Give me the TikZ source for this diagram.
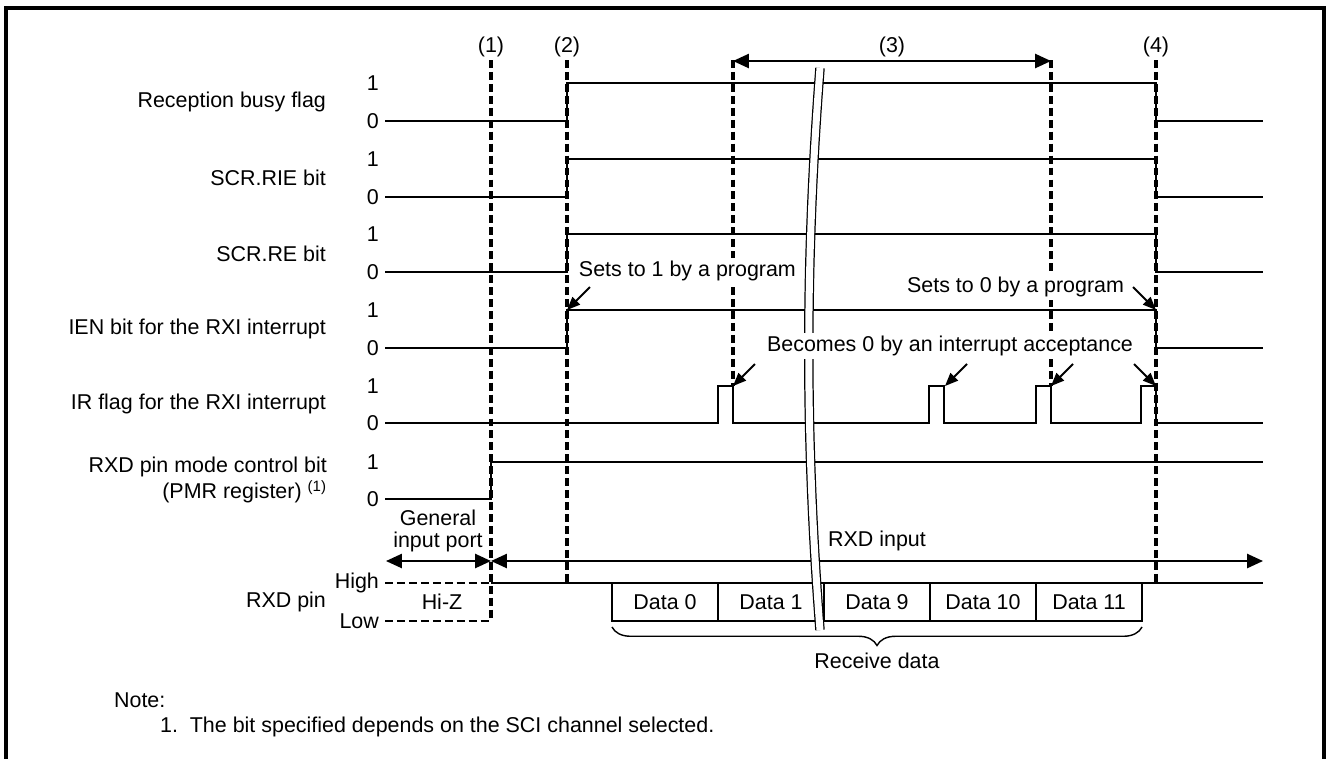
\documentclass[tikz,border=0pt]{standalone}
\usepackage{fontspec}
\setmainfont{Liberation Sans}
\usepackage{tikz}
\usetikzlibrary{positioning,arrows.meta,decorations.pathreplacing}

\begin{document}
\begin{tikzpicture}[x=0.2mm, y=-0.2mm,
  every node/.style={font=\fontsize{12.2}{15}\selectfont, inner sep=1pt},
  wave/.style={line width=0.8pt},
  markline/.style={line width=1.8pt, dash pattern=on 4.5pt off 2.3pt},
  hiz/.style={line width=1.4pt, dash pattern=on 4.5pt off 2.3pt},
  siglabel/.style={anchor=east, align=right},
  lvlnum/.style={anchor=east},
  remark/.style={fill=white, inner sep=1.5pt},
  pointer/.style={-{Triangle[length=7.5pt,width=6pt]}, line width=1.1pt},
  spanarrow/.style={{Triangle[length=9pt,width=8pt]}-{Triangle[length=9pt,width=8pt]}, line width=1.1pt},
  databox/.style={draw, line width=0.8pt, minimum width=21.2mm, minimum height=7.6mm, outer sep=0pt, inner sep=0pt}]
\useasboundingbox (0,0) rectangle (1330,758);
\draw[line width=2.3pt] (6,780) -- (6,8) -- (1324,8) -- (1324,780);

% Signal names and levels
\node[siglabel] (busy) at (328,102) {Reception busy flag};
\node[siglabel] (rie) at (328,178) {SCR.RIE bit};
\node[siglabel] (re) at (328,254) {SCR.RE bit};
\node[siglabel] (ien) at (328,329) {IEN bit for the RXI interrupt};
\node[siglabel] (ir) at (328,404) {IR flag for the RXI interrupt};
\node[siglabel] (pmr) at (329,480) {RXD pin mode control bit\\(PMR register) \textsuperscript{(1)}};
\node[siglabel] (rxd) at (328,602) {RXD pin};
\foreach \hi/\lo in {83/121,159/197,234/272,310/348,386/423,462/499} {
  \node[lvlnum] (one\hi) at (381,\hi) {1};
  \node[lvlnum] (zero\lo) at (381,\lo) {0};
}
\node[lvlnum] (high) at (381,583) {High};
\node[lvlnum] (low) at (381,621) {Low};

% Waveforms
\foreach \hi/\lo in {83/121,159/197,234/272,310/348}
  \draw[wave] (385,\lo) -- (567,\lo) -- (567,\hi) -- (1156,\hi) -- (1156,\lo) -- (1263,\lo);
\draw[wave] (385,423) foreach \t in {718,929,1036,1141} { -- (\t,423) -- (\t,386) -- (\t+15,386) -- (\t+15,423) } -- (1263,423);
\draw[wave] (385,499) -- (491,499) -- (491,462) -- (1263,462);
\draw[hiz] (385,583) -- (491,583);
\draw[hiz] (385,621) -- (491,621);
\draw[wave] (491,583) -- (1263,583);

% Timing markers
\foreach \x/\ylo in {491/621, 567/583, 733/386, 1051/386, 1156/583}
  \draw[markline] (\x,60) -- (\x,\ylo);
\node (m1) at (491,47) {(1)};
\node (m2) at (567,47) {(2)};
\node (m3) at (892,47) {(3)};
\node (m4) at (1156,47) {(4)};
\coordinate (s3a) at (733,61);
\coordinate (s3b) at (1051,61);
\draw[spanarrow] (s3a) -- (s3b);

% Port ranges
\coordinate (gp0) at (386,561);
\coordinate (gp1) at (491,561);
\coordinate (rx1) at (1263,561);
\draw[spanarrow] (gp0) -- (gp1);
\draw[spanarrow] (gp1) -- (rx1);
\node[align=center, font=\fontsize{12.2}{12.5}\selectfont] (gen) at (438,531) {General\\input port};
\node (rxin) at (877,541) {RXD input};
\node (hiztxt) at (442,602) {Hi-Z};

% Receive data
\node[databox, anchor=north west] (d0) at (612,583) {Data 0};
\node[databox, right=0pt of d0] (d1) {Data 1};
\node[databox, right=0pt of d1] (d9) {Data 9};
\node[databox, right=0pt of d9] (d10) {Data 10};
\node[databox, right=0pt of d10] (d11) {Data 11};
\draw[wave, decorate, decoration={brace, mirror, amplitude=3.7mm}] ([yshift=-1.2mm]d0.south west) -- ([yshift=-1.2mm]d11.south east);
\node (recv) at (877,661) {Receive data};

% Time break
\draw[line width=0.7pt, double=white, double distance=4pt] (820,68) .. controls (805,260) and (805,440) .. (820,630);

% Remarks
\node[remark, anchor=west] (set1) at (576,271) {Sets to 1 by a program};
\node[remark, anchor=east] (set0) at (1127,287) {Sets to 0 by a program};
\node[remark] (clr) at (950,346) {Becomes 0 by an interrupt acceptance};
\coordinate (set1tail) at (590,287);
\coordinate (ienup) at (567,310);
\coordinate (set0tail) at (1133,287);
\coordinate (iendn) at (1156,310);
\draw[pointer] (set1tail) -- (ienup);
\draw[pointer] (set0tail) -- (iendn);
\foreach \t/\h in {755/733, 967/945, 1073/1051, 1134/1156} {
  \coordinate (tail\h) at (\t,364);
  \coordinate (ack\h) at (\h,386);
  \draw[pointer] (tail\h) -- (ack\h);
}

% Note
\node[anchor=west] (note) at (112,700) {Note:};
\node[anchor=west] (note1) at (158,727) {1.\ \ The bit specified depends on the SCI channel selected.};
\end{tikzpicture}
\end{document}
